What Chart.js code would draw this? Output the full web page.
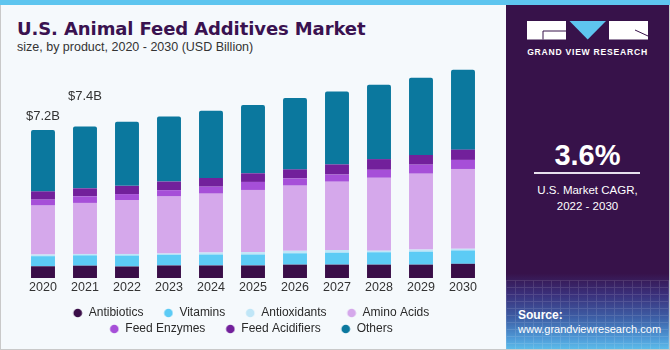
<!DOCTYPE html>
<html>
<head>
<meta charset="utf-8">
<script src="https://cdn.jsdelivr.net/npm/chart.js@4.4.1/dist/chart.umd.min.js"></script>
<style>
  html, body { margin: 0; padding: 0; }
  body { width: 670px; height: 350px; overflow: hidden; background: #f5f9fc; font-family: "Liberation Sans", Arial, sans-serif; }
  #frame { position: absolute; left: 0; top: 0; width: 668px; height: 348px; border: 1px solid #c9c9c9; background: #f5f9fc; }
  #strip { position: absolute; left: 0; top: 0; width: 670px; height: 5px; background: #5ec5ef; }
  #title { position: absolute; left: 17px; top: 17.5px; font-family: "DejaVu Sans", sans-serif; font-weight: bold; font-size: 18px; color: #3a1250; white-space: nowrap; letter-spacing: -0.1px; }
  #subtitle { position: absolute; left: 17px; top: 40px; font-size: 12.5px; color: #333; white-space: nowrap; }
  #panel { position: absolute; left: 506px; top: 5px; width: 163px; height: 344px;
    background: linear-gradient(to bottom, #37124a 0%, #37124a 78%, #3a2f7a 84%, #3d5fa6 91%, #4f9bd8 97%, #5bbbe9 100%); }
  #grid { position: absolute; left: 0; top: 275px; width: 163px; height: 69px; opacity: 0.12;
    background-image: repeating-linear-gradient(to right, rgba(255,255,255,0.9) 0 1px, transparent 1px 9px),
                      repeating-linear-gradient(to bottom, rgba(255,255,255,0.9) 0 1px, transparent 1px 7px); }
  .logo { position: absolute; }
  #gvr { position: absolute; left: 0; width: 163px; top: 42px; text-align: center; color: #fff; font-weight: bold; font-size: 8.6px; letter-spacing: 0.75px; }
  #cagr { position: absolute; left: 0; width: 163px; top: 134px; text-align: center; color: #fff; font-weight: bold; font-size: 29px; }
  #rule { position: absolute; left: 28px; width: 106px; top: 167px; height: 1.5px; background: #e8e0ee; }
  #cagrtxt { position: absolute; left: 0; width: 163px; top: 177px; text-align: center; color: #fff; font-size: 11.5px; line-height: 16px; }
  #src { position: absolute; left: 12px; top: 304px; color: #fff; font-size: 11px; line-height: 13.5px; }
  #src b { font-size: 12px; }
  #wrap { position: absolute; left: 2px; top: 62px; width: 482px; height: 288px; }
</style>
</head>
<body>
<div id="frame"></div>
<div id="strip"></div>
<div id="title">U.S. Animal Feed Additives Market</div>
<div id="subtitle">size, by product, 2020 - 2030 (USD Billion)</div>
<div id="panel">
  <div id="grid"></div>
  <svg class="logo" style="left:21px;top:16px" width="122" height="19" viewBox="0 0 122 19">
    <rect x="0" y="0" width="39" height="18.5" fill="#ffffff"/>
    <polyline points="39,10 16,10 16,18.5" fill="none" stroke="#37124a" stroke-width="1"/>
    <polygon points="42.5,0 79,0 60.7,18.5" fill="#5ec5ef"/>
    <rect x="82" y="0" width="39" height="18.5" fill="#ffffff"/>
    <line x1="108" y1="9" x2="121" y2="15" stroke="#37124a" stroke-width="1"/>
  </svg>
  <div id="gvr">GRAND VIEW RESEARCH</div>
  <div id="cagr">3.6%</div>
  <div id="rule"></div>
  <div id="cagrtxt">U.S. Market CAGR,<br>2022 - 2030</div>
  <div id="src"><b>Source:</b><br>www.grandviewresearch.com</div>
</div>
<div id="wrap"><canvas id="c"></canvas></div>
<script>
// ---- data ----
const years = ['2020','2021','2022','2023','2024','2025','2026','2027','2028','2029','2030'];
const antibiotics    = [0.57,0.60,0.56,0.61,0.61,0.61,0.65,0.65,0.65,0.65,0.69];
const vitamins       = [0.49,0.50,0.53,0.52,0.53,0.53,0.55,0.58,0.60,0.63,0.65];
const antioxidants   = [0.08,0.07,0.08,0.06,0.10,0.12,0.12,0.13,0.08,0.10,0.08];
const aminoAcids     = [2.38,2.48,2.62,2.77,2.86,3.02,3.17,3.32,3.54,3.69,3.88];
const feedEnzymes    = [0.29,0.32,0.29,0.31,0.34,0.39,0.35,0.35,0.39,0.44,0.44];
const feedAcidifiers = [0.40,0.39,0.40,0.42,0.42,0.42,0.44,0.49,0.52,0.47,0.50];
const others         = [2.99,3.01,3.11,3.16,3.27,3.32,3.47,3.54,3.62,3.75,3.88];
const totalLabels    = ['$7.2B', '$7.4B'];   // shown above 2020 and 2021

const seriesNames  = ['Antibiotics','Vitamins','Antioxidants','Amino Acids','Feed Enzymes','Feed Acidifiers','Others'];
const seriesValues = [antibiotics, vitamins, antioxidants, aminoAcids, feedEnzymes, feedAcidifiers, others];
const seriesColors = ['#3a0e48','#5ccbf5','#c0e6f7','#d5a8eb','#a64fd8','#72209b','#0b789e'];

// legend dots: circle at the right end of a wide transparent box
const DOT_W = 26;
function makeDot(color) {
  const cv = document.createElement('canvas');
  cv.width = DOT_W; cv.height = 10;
  const g = cv.getContext('2d');
  g.fillStyle = color;
  g.beginPath(); g.arc(DOT_W - 5, 5, 4.3, 0, Math.PI * 2); g.fill();
  return cv;
}
const dots = seriesColors.map(makeDot);

const labelGaps = [13, 30];
const totalsPlugin = {
  id: 'totals',
  afterDatasetsDraw(chart) {
    const ctx = chart.ctx;
    const meta = chart.getDatasetMeta(chart.data.datasets.length - 1);
    ctx.save();
    ctx.font = '13px "Liberation Sans", Arial, sans-serif';
    ctx.fillStyle = '#333';
    ctx.textAlign = 'center';
    ctx.textBaseline = 'middle';
    totalLabels.forEach((t, i) => {
      const bar = meta.data[i];
      ctx.fillText(t, bar.x, bar.y - labelGaps[i]);
    });
    ctx.restore();
  }
};

new Chart(document.getElementById('c'), {
  type: 'bar',
  data: {
    labels: years,
    datasets: seriesNames.map((name, i) => ({
      label: name,
      data: seriesValues[i],
      backgroundColor: seriesColors[i],
      borderWidth: 0,
      borderRadius: i === seriesNames.length - 1 ? {topLeft: 2, topRight: 2, bottomLeft: 0, bottomRight: 0} : 0,
      borderSkipped: false,
      barPercentage: 0.57,
      categoryPercentage: 1
    }))
  },
  options: {
    responsive: true,
    maintainAspectRatio: false,
    animation: false,
    layout: { padding: { top: 0, left: 0, right: 0, bottom: 5 } },
    scales: {
      x: {
        stacked: true,
        grid: { display: false, drawTicks: false },
        border: { display: false },
        ticks: { color: '#333', font: { size: 12.5, family: '"Liberation Sans", Arial, sans-serif' }, padding: 2.5, maxRotation: 0 },
        afterFit(axis) { axis.height = 25; }
      },
      y: {
        stacked: true,
        min: 0, max: 10.5,
        grid: { display: false, drawTicks: false },
        border: { display: false },
        ticks: { display: false },
        afterFit(axis) { axis.width = 20; }
      }
    },
    plugins: {
      tooltip: { enabled: false },
      legend: {
        position: 'bottom',
        labels: {
          usePointStyle: true,
          pointStyleWidth: DOT_W,
          boxHeight: 10,
          padding: 4,
          color: '#2a2a2a',
          font: { size: 12, family: '"Liberation Sans", Arial, sans-serif' },
          generateLabels(chart) {
            const items = Chart.defaults.plugins.legend.labels.generateLabels(chart);
            items.forEach((it, i) => { it.pointStyle = dots[i]; });
            return items;
          }
        }
      }
    }
  },
  plugins: [totalsPlugin]
});
</script>
</body>
</html>
